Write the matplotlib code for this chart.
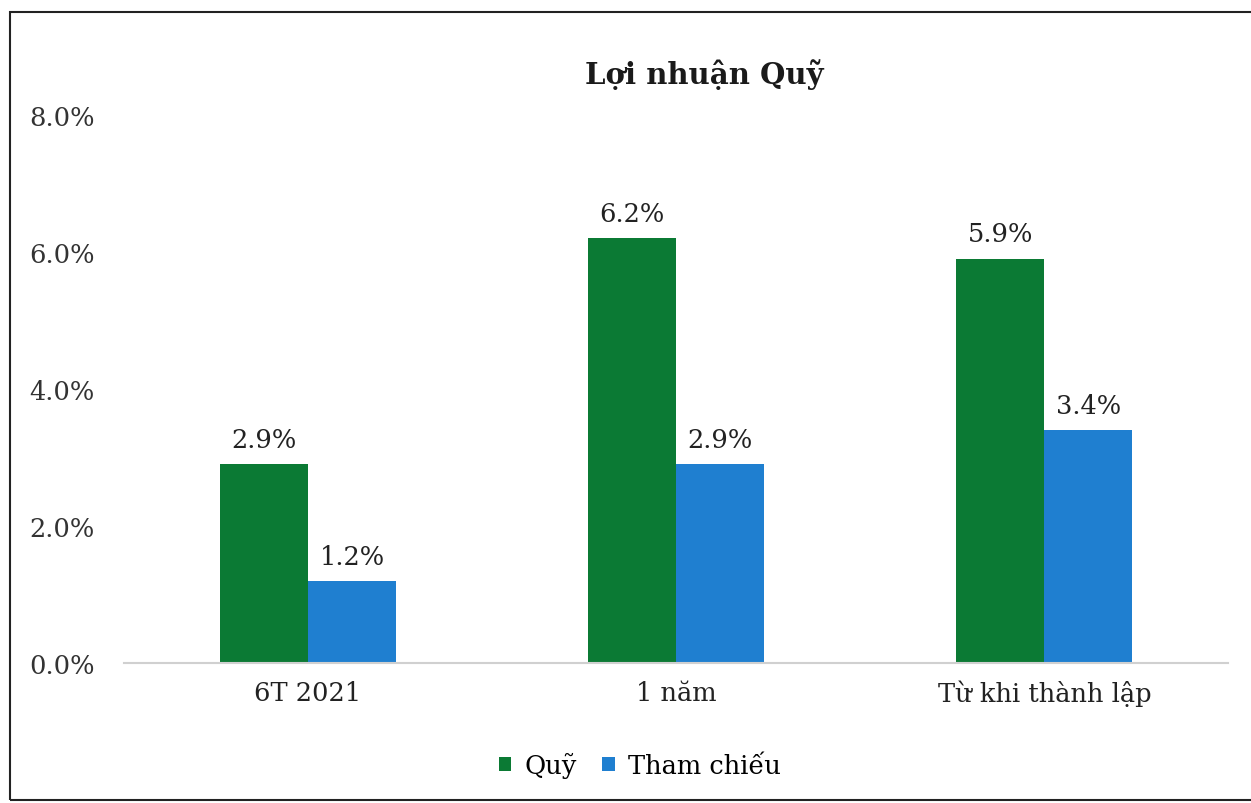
import matplotlib.pyplot as plt
import numpy as np
from matplotlib.patches import Rectangle

# Data
categories = ["6T 2021", "1 năm", "Từ khi thành lập"]
quy = [2.9, 6.2, 5.9]
tham_chieu = [1.2, 2.9, 3.4]
yticks = [0, 2, 4, 6, 8]

green = "#0b7a34"
blue = "#1f7fd0"

plt.rcParams['font.family'] = ['DejaVu Serif']

fig = plt.figure(figsize=(12.51, 8.04), dpi=100)
ax = fig.add_axes([0.099, 0.174, 0.883, 0.682])

x = np.arange(len(categories))
w = 0.239
b1 = ax.bar(x - w / 2, quy, w, color=green, label="Quỹ")
b2 = ax.bar(x + w / 2, tham_chieu, w, color=blue, label="Tham chiếu")

for bars, vals in [(b1, quy), (b2, tham_chieu)]:
    for r, v in zip(bars, vals):
        ax.text(r.get_x() + r.get_width() / 2, v + 0.18, f"{v:.1f}%",
                ha='center', va='bottom', fontsize=18.5, color='#222222')

ax.set_xlim(-0.5, 2.5)
ax.set_ylim(0, 8)
ax.set_yticks(yticks)
ax.set_yticklabels([f"{t:.1f}%" for t in yticks], fontsize=18.5, color='#333333')
ax.set_xticks(x)
ax.set_xticklabels(categories, fontsize=18.5, color='#222222')
ax.tick_params(axis='x', length=0, pad=12)
ax.tick_params(axis='y', length=0, pad=21)

for s in ['top', 'right', 'left']:
    ax.spines[s].set_visible(False)
ax.spines['bottom'].set_color('#d0d0d0')
ax.spines['bottom'].set_linewidth(1.5)

fig.text(0.563, 0.907, "Lợi nhuận Quỹ", ha='center', va='center',
         fontsize=21, fontweight='bold', color='#1a1a1a')

ax.legend(loc='upper center', bbox_to_anchor=(0.467, -0.12), ncol=2,
          frameon=False, fontsize=18.5, handlelength=0.5, handleheight=0.5,
          handletextpad=0.5, columnspacing=1.0)

fig.patches.append(Rectangle((0.008, 0.004), 1.2, 0.98, transform=fig.transFigure,
                             fill=False, edgecolor='#222222', linewidth=1.5))

fig.savefig("out.png", dpi=100)
